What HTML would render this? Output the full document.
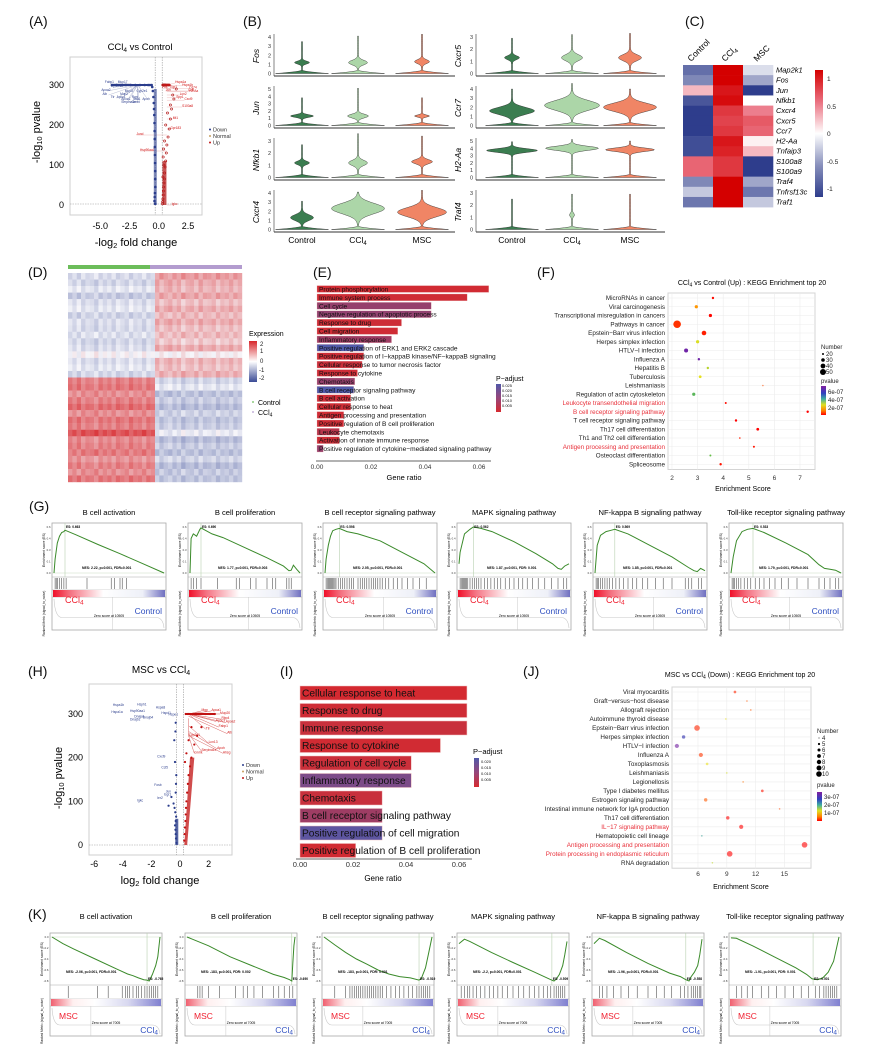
<!DOCTYPE html>
<html><head><meta charset="utf-8">
<style>
html,body{margin:0;padding:0;background:#fff}
svg{display:block;font-family:"Liberation Sans",Arial,sans-serif}
.pl{font-size:14px;fill:#111}
.it{font-style:italic}
</style></head><body>
<svg id="fig" width="894" height="1060" viewBox="0 0 894 1060" xmlns="http://www.w3.org/2000/svg">
<defs>
<linearGradient id="gradG" x1="0" x2="1" y1="0" y2="0"><stop offset="0" stop-color="#f0102a"/><stop offset="0.15" stop-color="#f47080"/><stop offset="0.45" stop-color="#ffffff"/><stop offset="0.8" stop-color="#eef0f8"/><stop offset="1" stop-color="#7070c0"/></linearGradient>
<linearGradient id="gradK" x1="0" x2="1" y1="0" y2="0"><stop offset="0" stop-color="#f06070"/><stop offset="0.2" stop-color="#fff0f0"/><stop offset="0.4" stop-color="#ffffff"/><stop offset="0.7" stop-color="#d8d8f0"/><stop offset="1" stop-color="#8080d0"/></linearGradient>
<linearGradient id="cbC" x1="0" x2="0" y1="0" y2="1"><stop offset="0" stop-color="#d40000"/><stop offset="0.25" stop-color="#ea7080"/><stop offset="0.5" stop-color="#ffffff"/><stop offset="0.75" stop-color="#8890bc"/><stop offset="1" stop-color="#2e3d8c"/></linearGradient>
<linearGradient id="cbD" x1="0" x2="0" y1="0" y2="1"><stop offset="0" stop-color="#d7262b"/><stop offset="0.5" stop-color="#ffffff"/><stop offset="1" stop-color="#3a4b96"/></linearGradient>
<linearGradient id="cbE" x1="0" x2="0" y1="0" y2="1"><stop offset="0" stop-color="#5058a8"/><stop offset="0.5" stop-color="#96467a"/><stop offset="1" stop-color="#d62a30"/></linearGradient>
<linearGradient id="cbF" x1="0" x2="0" y1="0" y2="1"><stop offset="0" stop-color="#8020a0"/><stop offset="0.25" stop-color="#3040c0"/><stop offset="0.45" stop-color="#40b0a0"/><stop offset="0.65" stop-color="#e0e020"/><stop offset="0.85" stop-color="#ff8000"/><stop offset="1" stop-color="#ff0000"/></linearGradient>
</defs>
<rect width="894" height="1060" fill="#fff"/>
<g>
<text class="pl" x="29" y="26">(A)</text><text class="pl" x="243" y="26">(B)</text><text class="pl" x="685" y="26">(C)</text>
<text class="pl" x="28" y="277">(D)</text><text class="pl" x="313" y="277">(E)</text><text class="pl" x="537" y="277">(F)</text>
<text class="pl" x="29" y="511">(G)</text><text class="pl" x="28" y="676">(H)</text><text class="pl" x="280" y="676">(I)</text>
<text class="pl" x="523" y="676">(J)</text><text class="pl" x="28" y="919">(K)</text>
</g>
<text x="140" y="50" font-size="9.5" text-anchor="middle">CCl<tspan font-size="6.5" dy="2">4</tspan><tspan dy="-2"> vs Control</tspan></text>
<text transform="translate(40,132) rotate(-90)" font-size="11" text-anchor="middle">-log<tspan font-size="7.5" dy="2">10</tspan><tspan dy="-2"> pvalue</tspan></text>
<text x="136" y="246" font-size="11" text-anchor="middle">-log<tspan font-size="7.5" dy="2">2</tspan><tspan dy="-2"> fold change</tspan></text>
<g font-size="5.5" fill="#333">
<circle cx="210" cy="129.5" r="1" fill="#2b3d8c"/><text x="213" y="131.5">Down</text>
<circle cx="210" cy="136" r="1" fill="#c8a060"/><text x="213" y="138">Normal</text>
<circle cx="210" cy="142.5" r="1" fill="#c01818"/><text x="213" y="144.5">Up</text></g>
<text x="302" y="243" font-size="8.5" text-anchor="middle">Control</text>
<text x="358" y="243" font-size="8.5" text-anchor="middle">CCl<tspan font-size="6" dy="2">4</tspan></text>
<text x="422" y="243" font-size="8.5" text-anchor="middle">MSC</text>
<text x="512" y="243" font-size="8.5" text-anchor="middle">Control</text>
<text x="572" y="243" font-size="8.5" text-anchor="middle">CCl<tspan font-size="6" dy="2">4</tspan></text>
<text x="630" y="243" font-size="8.5" text-anchor="middle">MSC</text>
<g font-size="8.5">
<text transform="translate(691,62) rotate(-45)">Control</text>
<text transform="translate(725,62) rotate(-45)">CCl<tspan font-size="6" dy="2">4</tspan></text>
<text transform="translate(757,62) rotate(-45)">MSC</text></g>
<rect x="815" y="70" width="8" height="127" fill="url(#cbC)"/>
<g font-size="6.5" fill="#222">
<text x="827" y="81">1</text><text x="827" y="109">0.5</text><text x="827" y="136">0</text><text x="827" y="164">-0.5</text><text x="827" y="191">-1</text></g>
<rect x="68" y="265" width="82" height="4" fill="#6cbd5a"/>
<rect x="150" y="265" width="92" height="4" fill="#b39ccf"/>
<text x="249" y="336" font-size="7">Expression</text>
<rect x="249" y="341" width="8" height="41" fill="url(#cbD)"/>
<g font-size="6" fill="#222"><text x="260" y="346">2</text><text x="260" y="353">1</text><text x="260" y="363">0</text><text x="259" y="372">-1</text><text x="259" y="380">-2</text></g>
<g font-size="7"><circle cx="253" cy="402" r="0.9" fill="#6cbd5a"/><text x="258" y="405">Control</text><circle cx="253" cy="412" r="0.9" fill="#b39ccf"/><text x="258" y="415">CCl<tspan font-size="5" dy="1.5">4</tspan></text></g>
<text x="404" y="480" font-size="7.5" text-anchor="middle">Gene ratio</text>
<text x="496" y="381" font-size="7">P−adjust</text>
<rect x="496" y="384" width="5" height="28" fill="url(#cbE)"/>
<g font-size="4" fill="#111"><text x="502" y="387">0.025</text><text x="502" y="392">0.020</text><text x="502" y="397">0.015</text><text x="502" y="402">0.010</text><text x="502" y="407">0.005</text></g>
<text x="752" y="285" font-size="7" text-anchor="middle">CCl<tspan font-size="5" dy="1.5">4</tspan><tspan dy="-1.5"> vs Control (Up) : KEGG Enrichment top 20</tspan></text>
<text x="743" y="491" font-size="7" text-anchor="middle">Enrichment Score</text>
<g font-size="6" fill="#222">
<text x="821" y="349">Number</text>
<circle cx="823" cy="354" r="1" fill="#000"/><text x="826" y="356">20</text>
<circle cx="823" cy="360" r="1.8" fill="#000"/><text x="826" y="362">30</text>
<circle cx="823" cy="366" r="2.4" fill="#000"/><text x="826" y="368">40</text>
<circle cx="823" cy="372" r="3" fill="#000"/><text x="826" y="374">50</text>
<text x="821" y="383">pvalue</text>
<rect x="821" y="386" width="5" height="29" fill="url(#cbF)"/>
<text x="828" y="394">6e-07</text><text x="828" y="402">4e-07</text><text x="828" y="410">2e-07</text></g>
<text x="161" y="673" font-size="10" text-anchor="middle">MSC vs CCl<tspan font-size="7" dy="2">4</tspan></text>
<text transform="translate(62,778) rotate(-90)" font-size="11" text-anchor="middle">-log<tspan font-size="7.5" dy="2">10</tspan><tspan dy="-2"> pvalue</tspan></text>
<text x="160" y="884" font-size="11" text-anchor="middle">log<tspan font-size="7.5" dy="2">2</tspan><tspan dy="-2"> fold change</tspan></text>
<g font-size="5.5" fill="#333">
<circle cx="243" cy="765" r="1" fill="#2b3d8c"/><text x="246" y="767">Down</text>
<circle cx="243" cy="771.5" r="1" fill="#c8a060"/><text x="246" y="773.5">Normal</text>
<circle cx="243" cy="778" r="1" fill="#c01818"/><text x="246" y="780">Up</text></g>
<text x="383" y="881" font-size="8" text-anchor="middle">Gene ratio</text>
<text x="473" y="754" font-size="7.5">P−adjust</text>
<rect x="474" y="758" width="5" height="29" fill="url(#cbE)"/>
<g font-size="4" fill="#111"><text x="481" y="763">0.020</text><text x="481" y="769">0.015</text><text x="481" y="775">0.010</text><text x="481" y="781">0.005</text></g>
<text x="740" y="677" font-size="7" text-anchor="middle">MSC vs CCl<tspan font-size="5" dy="1.5">4</tspan><tspan dy="-1.5"> (Down) : KEGG Enrichment top 20</tspan></text>
<text x="741" y="889" font-size="7" text-anchor="middle">Enrichment Score</text>
<g font-size="6" fill="#222">
<text x="817" y="733">Number</text>
<circle cx="819" cy="738" r="0.5" fill="#000"/><text x="822" y="740">4</text>
<circle cx="819" cy="744" r="1.1" fill="#000"/><text x="822" y="746">5</text>
<circle cx="819" cy="750" r="1.5" fill="#000"/><text x="822" y="752">6</text>
<circle cx="819" cy="756" r="1.9" fill="#000"/><text x="822" y="758">7</text>
<circle cx="819" cy="762" r="2.2" fill="#000"/><text x="822" y="764">8</text>
<circle cx="819" cy="768" r="2.5" fill="#000"/><text x="822" y="770">9</text>
<circle cx="819" cy="774" r="2.8" fill="#000"/><text x="822" y="776">10</text>
<text x="817" y="787">pvalue</text>
<rect x="817" y="792" width="5" height="29" fill="url(#cbF)"/>
<text x="824" y="799">3e-07</text><text x="824" y="807">2e-07</text><text x="824" y="815">1e-07</text></g>
</svg>
<script>
const NS='http://www.w3.org/2000/svg';
const svg=document.getElementById('fig');
function mk(tag,attrs,parent){const e=document.createElementNS(NS,tag);for(const k in attrs)e.setAttribute(k,attrs[k]);(parent||svg).appendChild(e);return e;}
function tx(x,y,s,attrs,parent){const e=mk('text',Object.assign({x:x,y:y},attrs||{}),parent);e.textContent=s;return e;}
function lerp(stops,v){if(v<=stops[0][0])return 'rgb('+stops[0][1].join(',')+')';for(let i=1;i<stops.length;i++){if(v<=stops[i][0]){const a=stops[i-1],b=stops[i];const f=(v-a[0])/(b[0]-a[0]);return 'rgb('+a[1].map((c,j)=>Math.round(c+(b[1][j]-c)*f)).join(',')+')';}}return 'rgb('+stops[stops.length-1][1].join(',')+')';}

/* ===== (A) volcano data ===== */
const aDownFC=[-4.0,-3.6,-3.2,-2.8,-2.4,-2.0,-1.6,-1.2,-0.9,-0.75,-0.6,-0.55,-0.5,-0.45,-0.42,-0.4,-0.38,-0.36,-0.35,-0.34,-0.33,-0.32,-0.31,-0.3,-0.3,-0.29,-0.32,-0.34,-0.36,-0.3];
const aDownP=[300,300,300,300,300,300,300,300,300,300,300,295,285,270,255,240,225,205,185,165,145,125,105,85,65,45,30,20,10,3];
const aUpFC=[0.32,0.34,0.36,0.38,0.4,0.42,0.45,0.48,0.5,0.55,0.6,0.65,0.7,0.8,0.9,1.0,1.1,1.3,1.5,0.35,0.4,0.45,0.5,0.55,0.6,0.7,0.8,0.9,0.38,0.42,0.5,0.6,0.75,1.0,1.2,0.36,0.44];
const aUpP=[3,8,15,25,35,45,55,65,80,95,110,130,150,170,190,215,240,265,290,300,300,300,300,300,300,300,300,300,120,140,160,200,230,250,275,70,100];
const aDownLab=['Fabp1','Mup17','Cyp2c29','Apoa2','Alb','Mup3','Apoc1','Cyp2e1','Ttr','Mup2','Apoa1','Saa1','Serpina1e','Apoh','Gnmt','Rgn'];
const aDownLabFC=[-4.6,-3.5,-4.1,-4.9,-4.8,-2.9,-3.6,-1.9,-4.1,-3.3,-3.2,-2.2,-3.2,-1.4,-2.3,-2.3];
const aDownLabP=[305,305,295,285,275,283,268,283,267,275,262,262,255,262,255,268];
const aUpLab=['Hspa1a','Hspa1b','Fos','Jun','Egr1','Ccl5','Cd74','H2-Aa','Lcn2','Spp1','Cxcl9','S100a8','Mt1','Gpr183','Jund','Hsp90aa1','Igkc'];
const aUpLab_FC=[1.4,2.0,0.3,0.6,1.0,2.5,2.6,2.6,1.8,1.5,2.2,2.0,1.2,1.0,-1.9,-1.6,1.1];
const aUpLab_P=[305,298,292,285,292,285,291,283,275,268,262,245,215,190,175,135,0];
const aXTicks=[-5.0,-2.5,0.0,2.5];
const aYTicks=[0,100,200,300];
const xA=v=>158.7+v*11.7, yA=v=>205-v*0.4;
{
const g=mk('g',{});


const box=mk('rect',{x:70,y:57,width:132,height:158,fill:'#fff',stroke:'#cfcfcf','stroke-width':1},g);


[-0.3,0.3].forEach(v=>{const l=mk('line',{x1:xA(v),x2:xA(v),y1:57,y2:215,stroke:'#999','stroke-width':0.6,'stroke-dasharray':'1.5,1'},g);

});
const hl=mk('line',{x1:70,x2:202,y1:yA(0)-1,y2:yA(0)-1,stroke:'#999','stroke-width':0.6,'stroke-dasharray':'1.5,1'},g);


aXTicks.forEach(v=>{const t=tx(xA(v),229,v.toFixed(1),{'font-size':9,'text-anchor':'middle'},g);

});
aYTicks.forEach(v=>{const t=tx(64,yA(v)+3,String(v),{'font-size':9,'text-anchor':'end'},g);

});
aDownLab.forEach((s,i)=>{const l=mk('line',{x1:xA(aDownLabFC[i])+6,y1:yA(aDownLabP[i]),x2:xA(-1.8),y2:yA(300),stroke:'#8890b8','stroke-width':0.3},g);


const t=tx(xA(aDownLabFC[i]),yA(aDownLabP[i]),s,{'font-size':3.2,fill:'#2b3d8c'},g);

});
aDownFC.forEach((v,i)=>{const c=mk('circle',{cx:xA(v),cy:yA(aDownP[i]),r:1.3,fill:'#2b3d8c'},g);

});
const dl=mk('line',{x1:xA(-4),x2:xA(-0.6),y1:yA(300),y2:yA(300),stroke:'#2b3d8c','stroke-width':2},g);


aUpLab.forEach((s,i)=>{const l=mk('line',{x1:xA(aUpLab_FC[i]),y1:yA(aUpLab_P[i]),x2:xA(0.7),y2:yA(Math.min(aUpLab_P[i],300)),stroke:'#e09090','stroke-width':0.3},g);


const t=tx(xA(aUpLab_FC[i]),yA(aUpLab_P[i]),s,{'font-size':3.2,fill:'#d01010'},g);

});
aUpFC.forEach((v,i)=>{const c=mk('circle',{cx:xA(v),cy:yA(aUpP[i]),r:1.1,fill:'none',stroke:'#b01010','stroke-width':0.6},g);

});
const ul=mk('rect',{x:xA(0.38),y:yA(300)-1,width:xA(1.0)-xA(0.38),height:2,fill:'#c01818'},g);


const uc=mk('rect',{x:xA(0.32),y:yA(110),width:4,height:yA(0)-yA(110),fill:'#b01010',opacity:0.7},g);


const dc=mk('rect',{x:xA(-0.42),y:yA(290),width:3,height:yA(0)-yA(290),fill:'#2b3d8c',opacity:0.6},g);


}

/* ===== (B) violins ===== */
const bGenes=['Fos','Jun','Nfkb1','Cxcr4','Cxcr5','Ccr7','H2-Aa','Traf4'];
const bTickMax=[4,5,3,4,3,4,5,3];
// per gene, per group [max, mode, bulge width, spread]
const bCtrl=[[3.5,1.2,7,0.22],[3.8,1.3,11,0.25],[2.7,1.2,7,0.2],[3.1,1.3,11,0.45],[2.9,1.3,7,0.22],[4.0,1.6,22,0.55],[4.9,3.7,25,0.35],[2.5,1.0,0,0.2]];
const bCcl4=[[4.1,1.2,9,0.35],[5.1,1.3,10,0.35],[3.6,1.2,9,0.3],[4.1,2.3,26,0.8],[3.2,1.3,10,0.35],[4.6,2.2,27,0.75],[5.2,4.0,26,0.4],[2.9,1.2,2,0.2]];
const bMsc=[[4.3,1.3,7,0.3],[3.8,1.3,7,0.2],[3.4,1.3,10,0.25],[4.3,1.9,24,0.7],[3.3,1.3,11,0.35],[4.0,2.0,26,0.65],[5.0,3.8,24,0.35],[2.9,1.0,0,0.2]];
const bColors=['#3b7d50','#acd6a8','#f08565'];
function violinPath(cx,y0,ppu,s){const n=60;const R=[],L=[];for(let i=0;i<=n;i++){const v=s[0]*i/n;const py=v*ppu;let w=0.5+s[2]*Math.exp(-Math.pow((v-s[1])/s[3],2));const b=Math.max(0,1-py/3.2);w+=26*Math.pow(b,1.6);R.push([cx+w,y0-py]);L.push([cx-w,y0-py]);}
let d='M'+R.map(p=>p[0].toFixed(1)+','+p[1].toFixed(1)).join('L');d+='L'+L.reverse().map(p=>p[0].toFixed(1)+','+p[1].toFixed(1)).join('L')+'Z';return d;}
{
const rowBottoms=[76,128,180,232];
for(let gi=0;gi<8;gi++){
const col=gi<4?0:1, row=gi%4;
const ax=col?476:274, ax2=col?665:455, yb=rowBottoms[row], y0=yb-2.5, top=yb-42;
const ppu=(y0-(top+3))/bTickMax[gi];
const cxs=col?[512,572,630]:[302,358,422];
const g=mk('g',{});


const xl=mk('line',{x1:ax,x2:ax2,y1:yb,y2:yb,stroke:'#333','stroke-width':0.9},g);


const yl=mk('line',{x1:ax,x2:ax,y1:top,y2:yb,stroke:'#333','stroke-width':0.6},g);


for(let t=0;t<=bTickMax[gi];t++){const tt=tx(ax-3,y0-t*ppu+2,String(t),{'font-size':5.5,'text-anchor':'end',fill:'#333'},g);

}
const lab=tx(0,0,bGenes[gi],{'font-size':8.5,'font-style':'italic','text-anchor':'middle',transform:'translate('+(ax-15)+','+(yb-20)+') rotate(-90)'},g);


[bCtrl,bCcl4,bMsc].forEach((arr,k)=>{const p=mk('path',{d:violinPath(cxs[k],y0,ppu,arr[gi]),fill:bColors[k],stroke:'#222','stroke-width':0.4},g);

});
}
}

/* ===== (C) heatmap ===== */
const cGenes=['Map2k1','Fos','Jun','Nfkb1','Cxcr4','Cxcr5','Ccr7','H2-Aa','Tnfaip3','S100a8','S100a9','Traf4','Tnfrsf13c','Traf1'];
const cCtrl=[-0.7,-0.55,0.25,-0.85,-1,-1,-1,-0.9,-0.9,0.55,0.55,-0.55,-0.25,-0.65];
const cCcl4=[1,1,0.9,0.95,0.75,0.7,0.75,0.9,0.85,0.75,0.75,1,1,1];
const cMsc=[-0.15,-0.4,-1,0,0.45,0.6,0.55,0.05,0.25,-1,-1,-0.4,-0.65,-0.25];
const cStops=[[-1,[46,61,140]],[-0.5,[136,144,188]],[0,[255,255,255]],[0.5,[234,112,128]],[1,[212,0,0]]];
{
const g=mk('g',{});


const x0=683,cw=30,y0=65,rh=10.15;
cGenes.forEach((gn,i)=>{[cCtrl,cCcl4,cMsc].forEach((arr,k)=>{const r=mk('rect',{x:x0+k*cw,y:y0+i*rh,width:cw+0.3,height:rh+0.3,fill:lerp(cStops,arr[i])},g);

});
const t=tx(776,y0+i*rh+7.5,gn,{'font-size':7.5,'font-style':'italic'},g);

});
}

/* ===== (D) heatmap ===== */
const dCtrlRows=[-0.3,-0.4,-0.2,-0.5,-0.3,-0.2,-0.4,-0.3,-0.35,-0.25,-0.4,-0.3,0.05,-0.3,-0.2,-0.35,1.1,1.2,1.0,1.1,1.3,1.0,1.2,1.1,1.6,1.0,1.1,1.2,0.9,1.1,1.0,1.2];
const dCcl4Rows=[0.9,0.7,0.6,0.8,0.5,0.7,0.6,0.7,0.5,0.6,0.4,0.7,0.1,0.6,0.5,0.7,-0.4,-0.2,-0.6,-0.5,-0.7,-0.4,-0.6,-0.5,-0.1,-0.7,-0.5,-0.6,-0.4,-0.7,-0.5,-0.6];
const dColJitter=[0.2,-0.1,0.3,-0.2,0.1,0.0,-0.3,0.2,-0.1,0.15,-0.2,0.25,0.05,-0.15,0.3,-0.05,0.1,-0.25,0.2,0.0,0.25,-0.2,0.1,0.3,-0.1,0.2,-0.3,0.05,0.15,-0.2,0.3,-0.1,0.0,0.2,-0.25,0.1,-0.05,0.25,-0.15,0.1];
const dStops=[[-2,[58,75,150]],[0,[246,246,250]],[2,[215,38,43]]];
{
const g=mk('g',{});


const x0=68,y0=273,W=174,H=209,nr=dCtrlRows.length,nc=dColJitter.length;
const cw=W/nc, rh=H/nr;
for(let r=0;r<nr;r++)for(let c=0;c<nc;c++){const base=c<nc/2?dCtrlRows[r]:dCcl4Rows[r];
const v=base+dColJitter[c]*0.7*(((r%3)-1)||1);
const rc=mk('rect',{x:(x0+c*cw).toFixed(2),y:(y0+r*rh).toFixed(2),width:(cw+0.2).toFixed(2),height:(rh+0.2).toFixed(2),fill:lerp(dStops,v)},g);

}
}

/* ===== (E) GO bar chart ===== */
const eTerms=['Protein phosphorylation','Immune system process','Cell cycle','Negative regulation of apoptotic process','Response to drug','Cell migration','Inflammatory response','Positive regulation of ERK1 and ERK2 cascade','Positive regulation of I−kappaB kinase/NF−kappaB signaling','Cellular response to tumor necrosis factor','Response to cytokine','Chemotaxis','B cell receptor signaling pathway','B cell activation','Cellular response to heat','Antigen processing and presentation','Positive regulation of B cell proliferation','Leukocyte chemotaxis','Activation of innate immune response','Positive regulation of cytokine−mediated signaling pathway'];
const eRatio=[0.0636,0.0556,0.0423,0.0423,0.0313,0.0299,0.0276,0.0173,0.0173,0.0167,0.015,0.014,0.0136,0.0125,0.0125,0.0099,0.0099,0.0083,0.0083,0.0023];
const ePadj=[0.002,0.003,0.012,0.013,0.004,0.003,0.011,0.026,0.004,0.005,0.004,0.012,0.026,0.004,0.003,0.003,0.003,0.008,0.004,0.012];
const eTicks=[0.00,0.02,0.04,0.06];
const padjStops=[[0,[214,40,46]],[0.006,[200,48,60]],[0.012,[150,64,108]],[0.02,[120,76,140]],[0.026,[80,90,170]]];
{
const g=mk('g',{});


const xE=v=>317+v*2700, yE=i=>289+i*8.4;
eTerms.forEach((s,i)=>{const b=mk('rect',{x:xE(0),y:yE(i)-3.4,width:xE(eRatio[i])-xE(0),height:6.8,fill:lerp(padjStops,ePadj[i]),stroke:'#e8b0b0','stroke-width':0.3},g);


const t=tx(319,yE(i)+2.5,s,{'font-size':6.6,fill:'#111'},g);

});
const ax=mk('line',{x1:316,x2:491,y1:461,y2:461,stroke:'#333','stroke-width':0.8},g);


eTicks.forEach(v=>{const t=tx(xE(v),469,v.toFixed(2),{'font-size':6.5,'text-anchor':'middle',fill:'#333'},g);

});
}

/* ===== dot plots (F, J) ===== */
const fTerms=['MicroRNAs in cancer','Viral carcinogenesis','Transcriptional misregulation in cancers','Pathways in cancer','Epstein−Barr virus infection','Herpes simplex infection','HTLV−I infection','Influenza A','Hepatitis B','Tuberculosis','Leishmaniasis','Regulation of actin cytoskeleton','Leukocyte transendothelial migration','B cell receptor signaling pathway','T cell receptor signaling pathway','Th17 cell differentiation','Th1 and Th2 cell differentiation','Antigen processing and presentation','Osteoclast differentiation','Spliceosome'];
const fScore=[3.6,2.95,3.5,2.2,3.25,3.0,2.55,3.05,3.4,3.1,5.55,2.85,4.1,7.3,4.5,5.35,4.65,5.2,3.5,3.9];
const fNum=[24,28,28,50,35,28,32,24,24,26,18,28,22,24,24,26,20,22,22,24];
const fP=[0.1e-7,1.5e-7,0.05e-7,0.5e-7,0.3e-7,2.3e-7,6e-7,6e-7,2.6e-7,2.2e-7,0.8e-7,3.5e-7,0.1e-7,0,0,0,0.3e-7,0.2e-7,3.3e-7,0.2e-7];
const fRed=[12,13,17];
const fTicks=[2,3,4,5,6,7];
const jTerms=['Viral myocarditis','Graft−versus−host disease','Allograft rejection','Autoimmune thyroid disease','Epstein−Barr virus infection','Herpes simplex infection','HTLV−I infection','Influenza A','Toxoplasmosis','Leishmaniasis','Legionellosis','Type I diabetes mellitus','Estrogen signaling pathway','Intestinal immune network for IgA production','Th17 cell differentiation','IL−17 signaling pathway','Hematopoietic cell lineage','Antigen processing and presentation','Protein processing in endoplasmic reticulum','RNA degradation'];
const jScore=[9.85,11.1,11.5,8.9,5.9,4.5,3.8,6.3,6.95,9.0,10.7,12.7,6.8,14.5,9.1,10.5,6.4,17.1,9.3,7.5];
const jNum=[6,4,4,4,10,7,8,8,6,4,4,6,7,4,7,8,4,10,10,4];
const jP=[0.2e-7,0.5e-7,0.5e-7,1e-7,0.2e-7,2.7e-7,3.3e-7,0.3e-7,1e-7,1.1e-7,0.6e-7,0.1e-7,0.5e-7,0.4e-7,0,0,2e-7,0,0,1.2e-7];
const jRed=[15,17,18];
const jTicks=[6,9,12,15];
const fStops=[[0,[255,0,0]],[0.8e-7,[255,80,0]],[1.5e-7,[255,150,0]],[2.2e-7,[230,225,30]],[3.3e-7,[100,190,70]],[4.5e-7,[40,140,190]],[5.3e-7,[50,50,190]],[6.2e-7,[128,32,160]]];
const jStops=[[0,[255,0,0]],[0.5e-7,[255,90,0]],[1e-7,[235,225,30]],[1.6e-7,[100,200,70]],[2.2e-7,[40,140,190]],[2.7e-7,[40,40,170]],[3.4e-7,[128,32,160]]];
function dotplot(name,terms,score,num,pv,red,ticks,x0v,ppu,left,right,top,y1,step,rScale,stops,tickY){
const g=mk('g',{});


const bottom=y1+(terms.length-1)*step+step*0.6;
const bx=mk('rect',{x:left,y:top,width:right-left,height:bottom-top,fill:'#fff',stroke:'#d4d4d4','stroke-width':1},g);


const xs=v=>x0v+(v-ticks[0])*ppu;
ticks.forEach(v=>{const l=mk('line',{x1:xs(v),x2:xs(v),y1:top,y2:bottom,stroke:'#ececec','stroke-width':0.6},g);


const t=tx(xs(v),tickY,String(v),{'font-size':6.5,'text-anchor':'middle',fill:'#333'},g);

});
terms.forEach((s,i)=>{const y=y1+i*step;
const l=mk('line',{x1:left,x2:right,y1:y,y2:y,stroke:'#ececec','stroke-width':0.6},g);


const t=tx(left-3,y+2.2,s,{'font-size':6.3,'text-anchor':'end',fill:red.indexOf(i)>=0?'#e8303a':'#222'},g);

});
terms.forEach((s,i)=>{const c=mk('circle',{cx:xs(score[i]),cy:y1+i*step,r:rScale(num[i]),fill:lerp(stops,pv[i]),opacity:num[i]<=4||num[i]<=18?0.6:1},g);

});
}
dotplot('f-kegg-dotplot',fTerms,fScore,fNum,fP,fRed,fTicks,672,25.6,668,815,293,298,8.75,n=>Math.max(0.8,0.6+(n-18)*0.1),fStops,480);
dotplot('j-kegg-dotplot',jTerms,jScore,jNum,jP,jRed,jTicks,698,9.6,672,811,687,692,8.99,n=>n<=4?0.8:0.6+(n-4)*0.37,jStops,876);

/* ===== (H) volcano ===== */
const hDownFC=[-0.25,-0.28,-0.3,-0.32,-0.35,-0.3,-0.27,-0.33,-0.38,-0.45,-0.6,-0.8,-0.3,-0.28,-0.26,-0.35,-0.4,-0.32,-0.3];
const hDownP=[5,15,25,35,45,55,65,75,85,95,110,90,120,140,160,190,240,260,280];
const hUpFC=[0.3,0.32,0.35,0.38,0.4,0.42,0.45,0.5,0.55,0.6,0.7,0.8,1.0,1.2,1.5,1.8,2.1,2.4,0.4,0.5,0.6,0.7,0.9,1.1,1.3,0.35,0.45,0.6,0.8];
const hUpP=[10,25,40,55,70,85,100,120,140,160,180,200,230,250,270,300,300,300,300,300,300,300,300,300,300,190,210,240,270];
const hDownLab=['Hspa1b','Hspa1a','Dnajb1','Hsph1','Hsp90aa1','Dnaja1','Dnajb4','Hspa8','Hspd1','Hspe1','Cxcl9','Ccl5','Jun','Fosb','Ier2','Egr1','Igkc'];
const hDownLabFC=[-4.7,-4.8,-3.5,-3.0,-3.5,-3.2,-2.6,-1.7,-1.3,-0.8,-1.6,-1.3,-1.0,-1.8,-1.6,-1.1,-3.0];
const hDownLabP=[318,302,285,320,305,292,290,313,300,296,200,175,120,135,105,113,100];
const hUpLab=['Mgp','Apoa1','Mup20','Apoc3','Rbp4','Fabp1','Apoa2','Alb','Ttr','Serpina1e','Apoh','Ahsg','Cyp2e1','Gnmt','Lcn13'];
const hUpLabFC=[1.5,2.2,2.8,2.5,2.9,2.7,3.2,3.3,1.8,1.5,2.6,3.0,0.6,1.0,2.0];
const hUpLabP=[307,307,300,283,288,270,280,255,265,215,220,210,250,210,233];
const hXTicks=[-6,-4,-2,0,2];
const hYTicks=[0,100,200,300];
const xH=v=>180+v*14.3, yH=v=>845-v*0.4367;
{
const g=mk('g',{});


const box=mk('rect',{x:89,y:684,width:143,height:171,fill:'#fff',stroke:'#cfcfcf','stroke-width':1},g);


[-0.25,0.25].forEach(v=>{const l=mk('line',{x1:xH(v),x2:xH(v),y1:684,y2:855,stroke:'#999','stroke-width':0.6,'stroke-dasharray':'1.5,1'},g);

});
const hl=mk('line',{x1:89,x2:232,y1:yH(0),y2:yH(0),stroke:'#999','stroke-width':0.6,'stroke-dasharray':'1.5,1'},g);


hXTicks.forEach(v=>{const t=tx(xH(v),867,String(v),{'font-size':9,'text-anchor':'middle'},g);

});
hYTicks.forEach(v=>{const t=tx(83,yH(v)+3,String(v),{'font-size':9,'text-anchor':'end'},g);

});
hUpLab.forEach((s,i)=>{const l=mk('line',{x1:xH(hUpLabFC[i]),y1:yH(hUpLabP[i]),x2:xH(0.6),y2:yH(Math.min(300,hUpLabP[i]+40)),stroke:'#d86060','stroke-width':0.5},g);

});
hDownLab.forEach((s,i)=>{const t=tx(xH(hDownLabFC[i]),yH(hDownLabP[i]),s,{'font-size':3.3,fill:'#2b3d8c'},g);

});
hUpLab.forEach((s,i)=>{const t=tx(xH(hUpLabFC[i]),yH(hUpLabP[i]),s,{'font-size':3.3,fill:'#d01010'},g);

});
hDownFC.forEach((v,i)=>{const c=mk('circle',{cx:xH(v),cy:yH(hDownP[i]),r:1.1,fill:'#2b3d8c'},g);

});
hUpFC.forEach((v,i)=>{const c=mk('circle',{cx:xH(v),cy:yH(hUpP[i]),r:1.1,fill:'#c01010'},g);

});
const ul=mk('rect',{x:xH(0.35),y:yH(300)-1,width:xH(2.5)-xH(0.35),height:2,fill:'#c01010'},g);


const uc=mk('polygon',{points:[xH(0.3),yH(0),xH(0.5),yH(0),xH(1.0),yH(200),xH(0.7),yH(200)].join(','),fill:'#c01010',opacity:0.75},g);


const dc=mk('rect',{x:xH(-0.33),y:yH(60),width:3,height:yH(0)-yH(60),fill:'#2b3d8c',opacity:0.8},g);


}

/* ===== (I) bar chart ===== */
const iTerms=['Cellular response to heat','Response to drug','Immune response','Response to cytokine','Regulation of cell cycle','Inflammatory response','Chemotaxis','B cell receptor signaling pathway','Positive regulation of cell migration','Positive regulation of B cell proliferation'];
const iRatio=[0.063,0.063,0.063,0.053,0.042,0.042,0.031,0.031,0.031,0.021];
const iPadj=[0.001,0.003,0.006,0.002,0.005,0.019,0.006,0.011,0.024,0.002];
const iTicks=[0.00,0.02,0.04,0.06];
{
const g=mk('g',{});


const xI=v=>300+v*2650, yI=i=>693+i*17.5;
iTerms.forEach((s,i)=>{const b=mk('rect',{x:xI(0),y:yI(i)-7,width:xI(iRatio[i])-xI(0),height:14,fill:lerp(padjStops,iPadj[i]),stroke:'#f0c0c0','stroke-width':0.5},g);


const t=tx(302,yI(i)+3.6,s,{'font-size':10.2,fill:'#111'},g);

});
const ax=mk('line',{x1:296,x2:472,y1:859,y2:859,stroke:'#333','stroke-width':0.8},g);


iTicks.forEach(v=>{const t=tx(xI(v),867,v.toFixed(2),{'font-size':7.5,'text-anchor':'middle',fill:'#333'},g);

});
}

/* ===== GSEA panels (G, K) ===== */
const gTitles=['B cell activation','B cell proliferation','B cell receptor signaling pathway','MAPK signaling pathway','NF-kappa B signaling pathway','Toll-like receptor signaling pathway'];
const gT=[[0,0.01,0.03,0.05,0.07,0.09,0.1,0.2,0.4,0.6,0.8,1],[0,0.01,0.03,0.06,0.09,0.1,0.2,0.3,0.5,0.7,0.85,0.9,0.92,0.94,0.97,1],[0,0.01,0.03,0.05,0.07,0.1,0.13,0.2,0.3,0.5,0.7,0.9,1],[0,0.01,0.05,0.1,0.13,0.2,0.3,0.5,0.7,0.85,0.9,0.93,0.96,1],[0,0.02,0.05,0.1,0.15,0.18,0.3,0.5,0.7,0.85,0.9,0.93,0.96,1],[0,0.02,0.05,0.1,0.15,0.2,0.3,0.5,0.7,0.8,0.85,0.9,0.95,1]];
const gES=[[0,0.3,0.65,0.8,0.88,0.9,0.93,0.83,0.62,0.42,0.21,0],[0,0.75,0.85,0.8,0.95,0.98,0.85,0.77,0.55,0.33,0.15,0.05,0.06,0.17,0.08,0],[0,0.3,0.6,0.8,0.92,0.95,0.97,0.9,0.85,0.7,0.45,0.2,0],[0.2,0.45,0.85,0.95,1,0.97,0.9,0.68,0.42,0.2,0.1,0.08,0.15,0.2],[0,0.6,0.82,0.9,0.93,0.95,0.85,0.6,0.35,0.12,0.05,0.03,0.1,0.05],[0,0.35,0.7,0.9,0.95,0.97,0.88,0.65,0.4,0.18,0.1,0.08,0.06,0]];
const gPeak=[0.1,0.1,0.13,0.13,0.18,0.2];
const gHits=[[0.01,0.02,0.03,0.05,0.07,0.09,0.11,0.3,0.52,0.55,0.6,0.62,0.66],[0.01,0.03,0.06,0.1,0.25,0.42,0.45,0.55,0.6,0.7,0.75,0.78,0.88,0.9,0.92],[0.01,0.02,0.03,0.04,0.05,0.06,0.07,0.08,0.09,0.1,0.12,0.14,0.16,0.18,0.2,0.22,0.24,0.26,0.3,0.32,0.34,0.36,0.38,0.4,0.42,0.44,0.46,0.48,0.5,0.52,0.55,0.58,0.62,0.66,0.7,0.75,0.8,0.86,0.92],[0.01,0.02,0.03,0.04,0.05,0.06,0.07,0.08,0.1,0.12,0.14,0.16,0.18,0.2,0.23,0.26,0.29,0.32,0.35,0.38,0.42,0.46,0.5,0.54,0.58,0.62,0.67,0.72,0.78,0.84,0.9,0.95,0.98],[0.01,0.02,0.03,0.05,0.07,0.09,0.11,0.13,0.16,0.19,0.22,0.26,0.3,0.34,0.38,0.43,0.48,0.55,0.62,0.7,0.82,0.85,0.88,0.94,0.97],[0.01,0.02,0.03,0.05,0.07,0.09,0.12,0.15,0.18,0.22,0.26,0.3,0.35,0.4,0.46,0.52,0.6,0.7,0.8,0.85,0.9,0.95,0.98]];
const gNES=['NES: 2.22, p=0.001, FDR=0.001','NES: 1.77, p=0.001, FDR=0.003','NES: 2.05, p=0.001, FDR=0.001','NES: 1.87, p=0.001, FDR: 0.001','NES: 1.85, p=0.001, FDR=0.001','NES: 1.79, p=0.001, FDR=0.001'];
const gESval=['ES: 0.663','ES: 0.690','ES: 0.598','ES: 0.562','ES: 0.569','ES: 0.533'];
const kT=[[0,0.1,0.2,0.4,0.6,0.7,0.75,0.8,0.85,0.88,0.9,0.93,0.96,0.98,1],[0,0.05,0.2,0.4,0.6,0.8,0.9,0.95,0.97,0.98,0.99,1],[0,0.1,0.2,0.3,0.4,0.5,0.6,0.7,0.8,0.88,0.9,0.94,0.97,1],[0,0.05,0.1,0.3,0.5,0.7,0.85,0.88,0.9,0.93,0.96,0.98,1],[0,0.05,0.1,0.3,0.5,0.7,0.8,0.85,0.88,0.9,0.93,0.96,0.98,1],[0,0.05,0.2,0.4,0.6,0.7,0.75,0.8,0.85,0.9,0.95,1]];
const kES=[[1,0.85,0.73,0.5,0.27,0.16,0.12,0.07,0.03,0.02,0,0.15,0.35,0.55,1],[1,0.95,0.8,0.55,0.35,0.15,0.08,0.03,0,0.4,0.8,1],[1,0.82,0.65,0.5,0.38,0.25,0.16,0.1,0.07,0.02,0.05,0.3,0.65,1],[0.85,0.95,0.9,0.65,0.42,0.2,0.03,0,0.04,0.15,0.35,0.6,0.9],[0.85,0.97,0.92,0.65,0.4,0.18,0.1,0.03,0,0.1,0.2,0.35,0.6,0.95],[0.98,0.97,0.8,0.55,0.3,0.15,0.05,0.03,0.07,0.2,0.45,1]];
const kPeak=[0.88,0.97,0.88,0.86,0.85,0.76];
const kHits=[[0.15,0.42,0.52,0.65,0.68,0.7,0.72,0.75,0.78,0.8,0.83,0.86,0.88,0.9,0.92,0.94,0.96,0.98],[0.1,0.12,0.14,0.2,0.3,0.45,0.52,0.56,0.62,0.7,0.8,0.85,0.9,0.95,0.98],[0.1,0.2,0.24,0.26,0.28,0.3,0.32,0.34,0.36,0.38,0.4,0.42,0.44,0.46,0.48,0.5,0.52,0.54,0.58,0.62,0.66,0.7,0.74,0.78,0.82,0.86,0.88,0.9,0.92,0.94,0.96,0.98],[0.02,0.05,0.08,0.1,0.13,0.16,0.2,0.24,0.28,0.32,0.36,0.4,0.45,0.5,0.55,0.6,0.65,0.7,0.74,0.78,0.82,0.85,0.88,0.9,0.92,0.94,0.96,0.98],[0.05,0.08,0.12,0.18,0.25,0.32,0.4,0.5,0.58,0.65,0.72,0.8,0.84,0.87,0.9,0.92,0.94,0.96,0.98,0.99],[0.05,0.1,0.15,0.2,0.28,0.35,0.42,0.5,0.58,0.65,0.72,0.78,0.82,0.86,0.88,0.9,0.92,0.94,0.96,0.98]];
const kNES=['NES: -2.06, p=0.001, FDR=0.001','NES: -183, p=0.001, FDR: 0.002','NES: -183, p=0.001, FDR: 0.001','NES: -2.2, p=0.001, FDR=0.001','NES: -1.96, p=0.001, FDR=0.001','NES: -1.91, p=0.001, FDR: 0.001'];
const kESval=['ES: -0.765','ES: -0.690','ES: -0.519','ES: -0.509','ES: -0.558','ES: -0.501'];
function gsea(name,x0,w,yT,yS,yG,yR,yB,tArr,esArr,hits,peak,nes,esv,isK){
const g=mk('g',{});


const X=t=>x0+2+t*(w-4);
const Y=e=>yS-4-e*(yS-yT-8);
const box=mk('rect',{x:x0,y:yT,width:w,height:yB-yT,fill:'#fff',stroke:'#a8a8a8','stroke-width':0.8},g);


[yS,yG,yR].forEach(y=>{const l=mk('line',{x1:x0,x2:x0+w,y1:y,y2:y,stroke:'#a8a8a8','stroke-width':0.5},g);

});
const zl=mk('line',{x1:x0,x2:x0+w,y1:isK?Y(1):Y(0),y2:isK?Y(1):Y(0),stroke:'#c8dcc0','stroke-width':0.5},g);


const pl=mk('line',{x1:X(peak),x2:X(peak),y1:yT,y2:yS,stroke:'#b8d0b0','stroke-width':0.6},g);


const pts=tArr.map((t,i)=>X(t).toFixed(1)+','+Y(esArr[i]).toFixed(1)).join(' ');
const curve=mk('polyline',{points:pts,fill:'none',stroke:'#3a8a2a','stroke-width':1},g);


hits.forEach(t=>{const h=mk('line',{x1:X(t),x2:X(t),y1:yS+1,y2:yG-1,stroke:'#333','stroke-width':0.5},g);

});
const gr=mk('rect',{x:x0+1,y:yG,width:w-2,height:yR-yG,fill:isK?'url(#gradK)':'url(#gradG)'},g);


const zx=X(isK?0.36:0.53);
const zv=mk('line',{x1:zx,x2:zx,y1:yR,y2:yB,stroke:'#c8c8c8','stroke-width':0.5},g);


const rc=mk('path',{d:'M'+(x0+2)+','+(yR+2)+' Q'+(x0+3)+','+((yR+yB)/2+4)+' '+(x0+10)+','+((yR+yB)/2+4)+' L'+(x0+w-10)+','+((yR+yB)/2+4)+' Q'+(x0+w-3)+','+((yR+yB)/2+4)+' '+(x0+w-2)+','+(yB-2),fill:'none',stroke:'#c8c8c8','stroke-width':0.6},g);


const yl=tx(0,0,'Enrichment score (ES)',{'font-size':3.4,'text-anchor':'middle',transform:'translate('+(x0-7)+','+((yT+yS)/2)+') rotate(-90)'},g);


const rl=tx(0,0,'Ranked Metric (signal_to_noise)',{'font-size':3.2,'text-anchor':'middle',transform:'translate('+(x0-7)+','+((yR+yB)/2)+') rotate(-90)'},g);


for(let k=0;k<5;k++){const yy=yS-4-k*(yS-yT-8)/4;const t=tx(x0-1.5,yy+1,isK?(-0.8+k*0.2).toFixed(1):(k*0.15).toFixed(1),{'font-size':2.8,'text-anchor':'end',fill:'#333'},g);

}
const n=tx(isK?x0+16:x0+30,isK?yS-12:yS-8,nes,{'font-size':3.4,'font-weight':'bold'},g);


const e=tx(isK?X(peak)+1:X(peak)+1,isK?yS-5:yT+5,esv,{'font-size':3.2,'font-weight':'bold'},g);


const z=tx(x0+w/2,isK?yR+18:yR+20,isK?'Zero score at 7005':'Zero score at 10505',{'font-size':3.4,'text-anchor':'middle'},g);


const a=mk('text',{x:isK?x0+9:x0+13,y:isK?yR+13:yR+6,'font-size':isK?8.5:9,fill:'#f02030'},g);


a.innerHTML=isK?'MSC':'CCl<tspan font-size="6.5" dy="1.5">4</tspan>';
const b=mk('text',{x:x0+w-4,y:isK?yB-3:yR+17,'font-size':isK?8.5:8.5,fill:'#3050c0','text-anchor':'end'},g);


b.innerHTML=isK?'CCl<tspan font-size="6.5" dy="1.5">4</tspan>':'Control';
}
{
const gx=[52,188,323,457,593,729];
const kx=[50,185,322,457,592,729];
gTitles.forEach((s,i)=>{
const t=tx(gx[i]+57,515,s,{'font-size':7.6,'text-anchor':'middle'});


gsea('g-gsea-'+(i+1),gx[i],114,523,577,590,597,630,gT[i],gES[i],gHits[i],gPeak[i],gNES[i],gESval[i],false);
const t2=tx(kx[i]+56,919,s,{'font-size':7.6,'text-anchor':'middle'});


gsea('k-gsea-'+(i+1),kx[i],112,933,985,999,1006,1036,kT[i],kES[i],kHits[i],kPeak[i],kNES[i],kESval[i],true);
});
}
</script>
</body></html>
